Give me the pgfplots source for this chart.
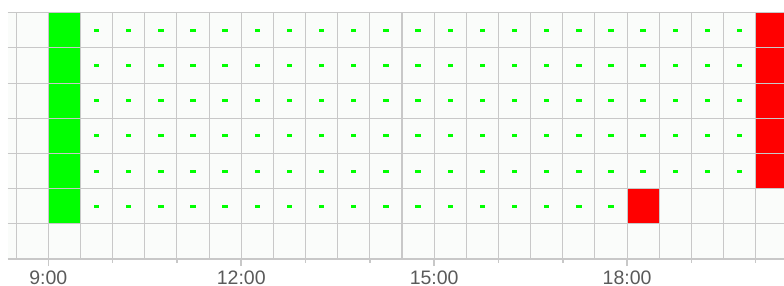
\documentclass[border=0pt]{standalone}
\usepackage{fontspec}
\setmainfont{Liberation Sans}
\usepackage{pgfplots}
\pgfplotsset{compat=1.18}
\definecolor{gridc}{HTML}{C8C8C8}
\definecolor{bgc}{HTML}{FAFCFA}
\definecolor{lbl}{HTML}{5A5A5A}
\definecolor{gr}{HTML}{00FF00}
\definecolor{rd}{HTML}{FF0000}
\begin{document}
\begin{tikzpicture}
\begin{axis}[name=ax, scale only axis, width=776.5pt, height=246.3pt,
 xmin=8.3655, xmax=20.44, ymin=0, ymax=7,
 axis line style={draw=none},
 axis background/.style={fill=bgc},
 axis on top,
 xtick={8.5,9,...,20}, xticklabels={}, major tick length=0pt,
 minor xtick={10,11,13,14,16,17,19,20}, minor tick length=3.5pt,
 extra x ticks={9,12,15,18}, extra x tick labels={9:00,12:00,15:00,18:00},
 extra x tick style={grid=none, major tick length=7pt},
 ytick={0,1,2,3,4,5,6,7}, yticklabels={}, y tick style={draw=none},
 grid=major, grid style={gridc, line width=1.1pt},
 tick style={gridc, line width=1.5pt}, tick align=outside, xtick pos=bottom, ytick pos=left,
 xticklabel style={font=\fontsize{19.5}{19.5}\selectfont, text=lbl, yshift=-1.5pt},
]
% green block 9:00-9:30, rows 1-6
\addplot[fill=gr, draw=none] coordinates {(9,1) (9.5,1) (9.5,7) (9,7)};
% red block 18:00-18:30, row 6
\addplot[fill=rd, draw=none] coordinates {(18,1) (18.5,1) (18.5,2) (18,2)};
% red block 20:00-20:30, rows 1-5
\addplot[fill=rd, draw=none] coordinates {(20,2) (20.5,2) (20.5,7) (20,7)};
% dots
\pgfplotsset{dotstyle/.style={only marks, color=gr, mark=square*, mark size=1pt, mark options={xscale=2.2, fill=gr, draw=gr, line width=0pt}}}
\addplot[dotstyle] coordinates {(9.75,6.5) (10.25,6.5) (10.75,6.5) (11.25,6.5) (11.75,6.5) (12.25,6.5) (12.75,6.5) (13.25,6.5) (13.75,6.5) (14.25,6.5) (14.75,6.5) (15.25,6.5) (15.75,6.5) (16.25,6.5) (16.75,6.5) (17.25,6.5) (17.75,6.5) (18.25,6.5) (18.75,6.5) (19.25,6.5) (19.75,6.5)};
\addplot[dotstyle] coordinates {(9.75,5.5) (10.25,5.5) (10.75,5.5) (11.25,5.5) (11.75,5.5) (12.25,5.5) (12.75,5.5) (13.25,5.5) (13.75,5.5) (14.25,5.5) (14.75,5.5) (15.25,5.5) (15.75,5.5) (16.25,5.5) (16.75,5.5) (17.25,5.5) (17.75,5.5) (18.25,5.5) (18.75,5.5) (19.25,5.5) (19.75,5.5)};
\addplot[dotstyle] coordinates {(9.75,4.5) (10.25,4.5) (10.75,4.5) (11.25,4.5) (11.75,4.5) (12.25,4.5) (12.75,4.5) (13.25,4.5) (13.75,4.5) (14.25,4.5) (14.75,4.5) (15.25,4.5) (15.75,4.5) (16.25,4.5) (16.75,4.5) (17.25,4.5) (17.75,4.5) (18.25,4.5) (18.75,4.5) (19.25,4.5) (19.75,4.5)};
\addplot[dotstyle] coordinates {(9.75,3.5) (10.25,3.5) (10.75,3.5) (11.25,3.5) (11.75,3.5) (12.25,3.5) (12.75,3.5) (13.25,3.5) (13.75,3.5) (14.25,3.5) (14.75,3.5) (15.25,3.5) (15.75,3.5) (16.25,3.5) (16.75,3.5) (17.25,3.5) (17.75,3.5) (18.25,3.5) (18.75,3.5) (19.25,3.5) (19.75,3.5)};
\addplot[dotstyle] coordinates {(9.75,2.5) (10.25,2.5) (10.75,2.5) (11.25,2.5) (11.75,2.5) (12.25,2.5) (12.75,2.5) (13.25,2.5) (13.75,2.5) (14.25,2.5) (14.75,2.5) (15.25,2.5) (15.75,2.5) (16.25,2.5) (16.75,2.5) (17.25,2.5) (17.75,2.5) (18.25,2.5) (18.75,2.5) (19.25,2.5) (19.75,2.5)};
\addplot[dotstyle] coordinates {(9.75,1.5) (10.25,1.5) (10.75,1.5) (11.25,1.5) (11.75,1.5) (12.25,1.5) (12.75,1.5) (13.25,1.5) (13.75,1.5) (14.25,1.5) (14.75,1.5) (15.25,1.5) (15.75,1.5) (16.25,1.5) (16.75,1.5) (17.25,1.5) (17.75,1.5)};
\end{axis}
\pgfresetboundingbox
\path[use as bounding box] ([xshift=-7.5pt,yshift=-27pt]ax.south west) rectangle ([yshift=12.7pt]ax.north east);
\end{tikzpicture}
\end{document}
